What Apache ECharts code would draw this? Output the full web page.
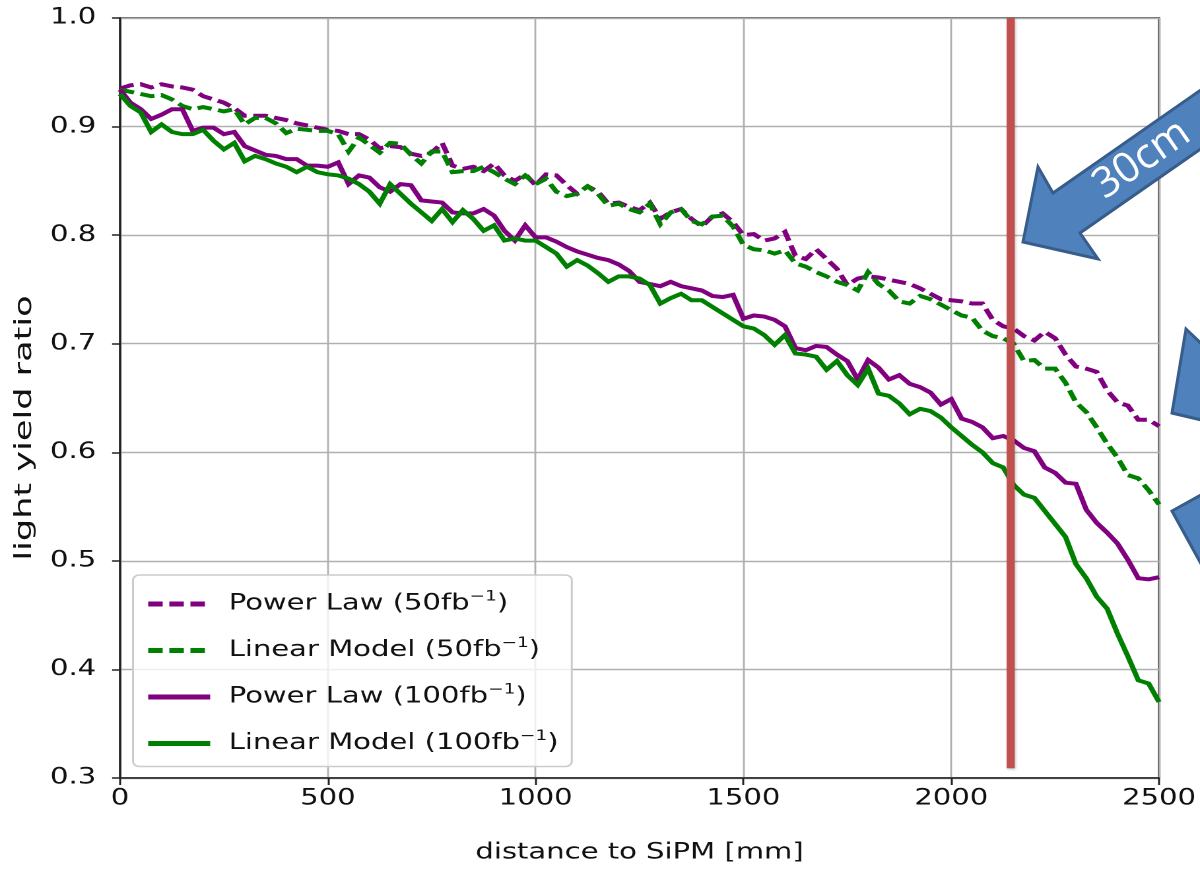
<!DOCTYPE html>
<html>
<head>
<meta charset="utf-8">
<title>light yield ratio vs distance to SiPM</title>
<script src="https://cdn.jsdelivr.net/npm/echarts@6/dist/echarts.min.js"></script>
<style>
  html, body { margin: 0; padding: 0; background: #ffffff; }
  #stage { position: relative; width: 1200px; height: 869px; overflow: hidden; background: #ffffff; }
  /* the plot is laid out narrower and widened to the full frame */
  #chart { position: absolute; left: 0; top: 0; width: 909px; height: 869px;
           transform: scaleX(1.3201); transform-origin: 0 0; }
  #overlay { position: absolute; left: 0; top: 0; width: 1200px; height: 869px; pointer-events: none; }
</style>
</head>
<body>
<div id="stage">
  <div id="chart"></div>
  <div id="overlay"></div>
</div>
<script>
// Sampling positions along the tile (mm), one every 25 mm from 0 to 2500
const distance = Array.from({ length: 101 }, (_, i) => i * 25);

// Power Law model, 50 fb^-1
const powerLaw50 = [
  0.935, 0.938, 0.939, 0.936, 0.939, 0.937, 0.936, 0.934, 0.928, 0.925,
  0.922, 0.917, 0.910, 0.910, 0.910, 0.908, 0.906, 0.903, 0.901, 0.899,
  0.897, 0.896, 0.893, 0.893, 0.888, 0.880, 0.882, 0.881, 0.875, 0.873,
  0.876, 0.885, 0.864, 0.861, 0.863, 0.859, 0.866, 0.855, 0.850, 0.856,
  0.846, 0.856, 0.855, 0.846, 0.838, 0.845, 0.840, 0.829, 0.830, 0.826,
  0.823, 0.830, 0.815, 0.821, 0.824, 0.815, 0.808, 0.817, 0.820, 0.812,
  0.800, 0.801, 0.795, 0.797, 0.803, 0.781, 0.778, 0.787, 0.778, 0.769,
  0.754, 0.760, 0.762, 0.761, 0.759, 0.757, 0.755, 0.751, 0.746, 0.741,
  0.740, 0.739, 0.737, 0.737, 0.722, 0.716, 0.714, 0.707, 0.703, 0.711,
  0.705, 0.690, 0.679, 0.677, 0.674, 0.657, 0.646, 0.643, 0.630, 0.630,
  0.624
];

// Linear model, 50 fb^-1
const linear50 = [
  0.934, 0.932, 0.930, 0.928, 0.929, 0.925, 0.919, 0.916, 0.918, 0.916,
  0.914, 0.916, 0.902, 0.908, 0.908, 0.903, 0.894, 0.898, 0.897, 0.896,
  0.896, 0.893, 0.877, 0.890, 0.883, 0.876, 0.885, 0.884, 0.874, 0.866,
  0.877, 0.877, 0.858, 0.859, 0.859, 0.863, 0.858, 0.852, 0.847, 0.855,
  0.847, 0.852, 0.840, 0.836, 0.838, 0.845, 0.838, 0.827, 0.829, 0.824,
  0.821, 0.829, 0.810, 0.821, 0.824, 0.813, 0.810, 0.817, 0.818, 0.808,
  0.791, 0.787, 0.786, 0.783, 0.786, 0.774, 0.771, 0.766, 0.762, 0.757,
  0.754, 0.749, 0.766, 0.755, 0.749, 0.739, 0.737, 0.744, 0.741, 0.736,
  0.731, 0.726, 0.724, 0.712, 0.707, 0.705, 0.700, 0.684, 0.685, 0.677,
  0.677, 0.664, 0.646, 0.637, 0.623, 0.608, 0.595, 0.579, 0.576, 0.565,
  0.552
];

// Power Law model, 100 fb^-1
const powerLaw100 = [
  0.934, 0.922, 0.916, 0.907, 0.911, 0.916, 0.916, 0.896, 0.899, 0.899,
  0.893, 0.895, 0.882, 0.878, 0.874, 0.873, 0.870, 0.870, 0.864, 0.864,
  0.863, 0.867, 0.847, 0.855, 0.853, 0.844, 0.840, 0.847, 0.846, 0.832,
  0.831, 0.830, 0.821, 0.820, 0.820, 0.824, 0.818, 0.804, 0.795, 0.809,
  0.798, 0.798, 0.794, 0.789, 0.785, 0.782, 0.779, 0.777, 0.773, 0.767,
  0.757, 0.755, 0.753, 0.757, 0.753, 0.751, 0.749, 0.744, 0.743, 0.745,
  0.723, 0.726, 0.725, 0.722, 0.716, 0.696, 0.694, 0.698, 0.697, 0.690,
  0.684, 0.667, 0.685, 0.678, 0.667, 0.671, 0.663, 0.660, 0.655, 0.644,
  0.649, 0.631, 0.628, 0.623, 0.613, 0.615, 0.611, 0.604, 0.601, 0.586,
  0.581, 0.572, 0.571, 0.547, 0.535, 0.526, 0.516, 0.501, 0.484, 0.483,
  0.485
];

// Linear model, 100 fb^-1
const linear100 = [
  0.930, 0.919, 0.913, 0.895, 0.902, 0.895, 0.893, 0.893, 0.897, 0.887,
  0.879, 0.885, 0.868, 0.873, 0.870, 0.866, 0.863, 0.858, 0.863, 0.858,
  0.856, 0.855, 0.852, 0.847, 0.840, 0.829, 0.847, 0.838, 0.829, 0.821,
  0.813, 0.824, 0.812, 0.823, 0.815, 0.804, 0.809, 0.795, 0.797, 0.795,
  0.795, 0.789, 0.783, 0.771, 0.777, 0.772, 0.765, 0.757, 0.762, 0.762,
  0.760, 0.754, 0.737, 0.742, 0.746, 0.740, 0.740, 0.734, 0.728, 0.722,
  0.716, 0.714, 0.708, 0.699, 0.708, 0.691, 0.690, 0.688, 0.676, 0.684,
  0.671, 0.662, 0.677, 0.654, 0.652, 0.645, 0.635, 0.640, 0.638, 0.632,
  0.623, 0.615, 0.607, 0.600, 0.590, 0.586, 0.570, 0.561, 0.558, 0.546,
  0.534, 0.522, 0.497, 0.484, 0.467, 0.456, 0.433, 0.412, 0.390, 0.387,
  0.370
];

// Legend labels: model name and integrated luminosity
const seriesLabels = [
  { model: 'Power Law', lumi: '50' },
  { model: 'Linear Model', lumi: '50' },
  { model: 'Power Law', lumi: '100' },
  { model: 'Linear Model', lumi: '100' }
];
const seriesValues = [powerLaw50, linear50, powerLaw100, linear100];
const seriesColors = ['#800080', '#008000', '#800080', '#008000'];
const seriesDashed = [true, true, false, false];

// Axis ranges and ticks
const xMin = 0, xMax = 2500, xStep = 500;
const yMin = 0.3, yMax = 1.0, yStep = 0.1;

// Position of the 30 cm marker line (mm) and its vertical extent
const markerDistance = 2143;
const markerTop = 1.0;
const markerBottom = 0.309;

// Horizontal widening applied to the plot container (see CSS)
const S = 1200 / 909;
const FONT = 'DejaVu Sans';

const seriesName = (i) => seriesLabels[i].model + ' (' + seriesLabels[i].lumi + 'fb-1)';

const chart = echarts.init(document.getElementById('chart'), null, { renderer: 'canvas', devicePixelRatio: 2 });

const series = seriesValues.map((vals, i) => ({
  name: seriesName(i),
  type: 'line',
  data: distance.map((d, k) => [d, vals[k]]),
  showSymbol: false,
  symbol: 'none',
  clip: true,
  z: 3 + i,
  lineStyle: {
    color: seriesColors[i],
    width: 4,
    type: seriesDashed[i] ? [11, 5] : 'solid',
    cap: 'butt',
    join: 'miter'
  },
  itemStyle: { color: seriesColors[i] }
}));

const option = {
  animation: false,
  backgroundColor: '#ffffff',
  grid: {
    left: 120 / S, right: 34 / S, top: 18, bottom: 87,
    show: true,
    borderColor: '#222222',
    borderWidth: 1.5,
    backgroundColor: 'transparent'
  },
  xAxis: {
    type: 'value',
    min: xMin, max: xMax, interval: xStep,
    name: 'distance to SiPM [mm]',
    nameLocation: 'middle',
    nameGap: 64,
    nameTextStyle: { fontFamily: FONT, fontSize: 22, color: '#111111' },
    axisLine: { show: true, onZero: false, lineStyle: { color: '#222222', width: 1.5 } },
    axisTick: { show: true, inside: false, length: 7, lineStyle: { color: '#222222', width: 1.5 } },
    axisLabel: { margin: 10, fontFamily: FONT, fontSize: 22, color: '#111111', formatter: (v) => String(v) },
    splitLine: { show: true, lineStyle: { color: '#b0b0b0', width: 1.4 } }
  },
  yAxis: {
    type: 'value',
    min: yMin, max: yMax, interval: yStep,
    axisLine: { show: true, onZero: false, lineStyle: { color: '#222222', width: 1.5 } },
    axisTick: { show: true, inside: false, length: 6, lineStyle: { color: '#222222', width: 1.5 } },
    axisLabel: {
      margin: 18, fontFamily: FONT, fontSize: 22, color: '#111111',
      formatter: (v) => v.toFixed(1)
    },
    splitLine: { show: true, lineStyle: { color: '#b0b0b0', width: 1.4 } }
  },
  legend: {
    orient: 'vertical',
    left: 133 / S, top: 575,
    padding: [15, 10, 12, 9],
    itemWidth: 62 / S, itemHeight: 14, itemGap: 21.5,
    backgroundColor: 'rgba(255,255,255,0.8)',
    borderColor: '#cccccc', borderWidth: 1.5, borderRadius: 5,
    lineStyle: { width: 5 },
    itemStyle: { color: 'rgba(0,0,0,0)', borderColor: 'rgba(0,0,0,0)', borderWidth: 0, opacity: 0 },
    data: seriesLabels.map((_, i) => seriesName(i)),
    formatter: (name) => {
      const i = seriesLabels.findIndex((_, k) => seriesName(k) === name);
      const lab = seriesLabels[i];
      return '{f|' + lab.model + ' (' + lab.lumi + 'fb}{s|\u22121}{e|)}';
    },
    textStyle: {
      fontFamily: FONT, fontSize: 22, color: '#111111',
      rich: {
        f: { fontFamily: FONT, fontSize: 22, color: '#111111', lineHeight: 28, padding: [0, 0, 0, 9] },
        s: { fontFamily: FONT, fontSize: 14, color: '#111111', lineHeight: 14, verticalAlign: 'top' },
        e: { fontFamily: FONT, fontSize: 22, color: '#111111', lineHeight: 28 }
      }
    }
  },
  graphic: [
    {
      // y-axis title
      type: 'text',
      x: 25 / S, y: 428,
      rotation: Math.PI / 2,
      scaleX: 1.95,
      style: {
        text: 'light yield ratio',
        fill: '#111111',
        font: '18px "DejaVu Sans"',
        align: 'center',
        verticalAlign: 'middle'
      }
    }
  ],
  series: series
};

chart.setOption(option);

// Overlaid annotations: the 30 cm marker line and the callout arrows
const overlay = echarts.init(document.getElementById('overlay'), null, { renderer: 'canvas' });
const mx = chart.convertToPixel({ xAxisIndex: 0 }, markerDistance) * S;
const myTop = chart.convertToPixel({ yAxisIndex: 0 }, markerTop);
const myBottom = chart.convertToPixel({ yAxisIndex: 0 }, markerBottom);

const arrowFill = '#4f81bd';
const arrowStroke = '#385d8a';
const arrowStyle = { fill: arrowFill, stroke: arrowStroke, lineWidth: 3, lineJoin: 'miter' };

overlay.setOption({
  animation: false,
  backgroundColor: 'transparent',
  graphic: [
    {
      type: 'rect',
      z: 50,
      shape: { x: mx - 4, y: myTop, width: 8, height: myBottom - myTop },
      style: { fill: '#c0504d', shadowBlur: 3, shadowColor: 'rgba(0,0,0,0.25)', shadowOffsetX: 1, shadowOffsetY: 1 }
    },
    {
      type: 'polygon',
      z: 60,
      shape: {
        points: [[1023, 242], [1098, 259], [1080, 233], [1215, 139], [1215, 80], [1053, 193], [1038, 167]]
      },
      style: arrowStyle
    },
    {
      type: 'text',
      z: 61,
      x: 1098, y: 190,
      rotation: 0.605,
      style: {
        text: '30cm',
        fill: '#ffffff',
        font: '42px "Open Sans"',
        align: 'left',
        verticalAlign: 'middle'
      }
    },
    {
      type: 'polygon',
      z: 60,
      shape: { points: [[1186, 329], [1210, 352], [1210, 422], [1172, 413]] },
      style: arrowStyle
    },
    {
      type: 'polygon',
      z: 60,
      shape: { points: [[1172, 511], [1210, 490], [1210, 580]] },
      style: arrowStyle
    }
  ]
});
</script>
</body>
</html>
